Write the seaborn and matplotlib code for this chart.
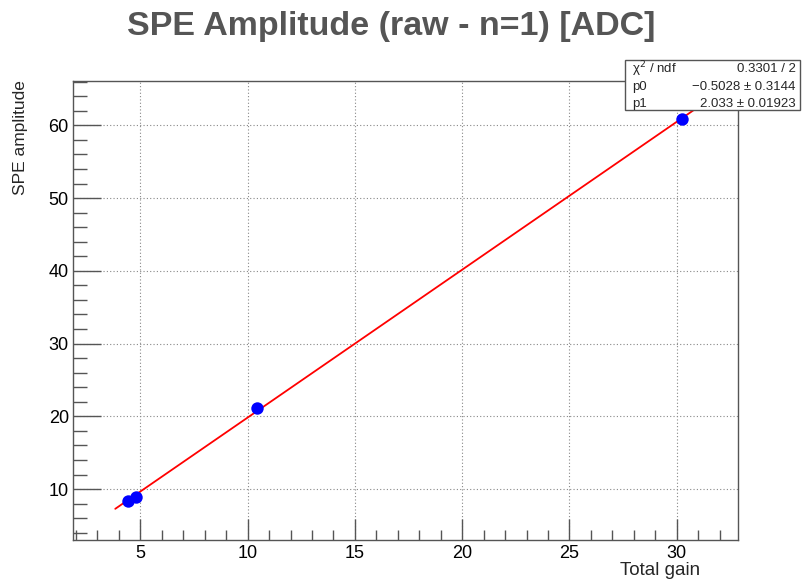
import numpy as np
import pandas as pd
import matplotlib
matplotlib.use("Agg")
import matplotlib.pyplot as plt
from matplotlib.ticker import MultipleLocator
from matplotlib.patches import Rectangle
import seaborn as sns

# ---- data ----
total_gain = [4.44, 4.81, 10.46, 30.23]
spe_amplitude = [8.4, 8.9, 21.2, 60.9]
fit_p0 = -0.5028
fit_p1 = 2.033
fit_x_range = [3.83, 31.8]
stats_names = ["χ$^2$ / ndf", "p0", "p1"]
stats_values = ["0.3301 / 2", "\u22120.5028 ± 0.3144", "2.033 ± 0.01923"]
x_ticks = [5, 10, 15, 20, 25, 30]
y_ticks = [10, 20, 30, 40, 50, 60]

sns.set_theme(style="white")
plt.rcParams['font.family'] = ['Liberation Sans', 'DejaVu Sans']

fig = plt.figure(figsize=(8.02, 5.82), dpi=100)
ax = fig.add_axes([0.091, 0.0722, 0.829, 0.788])

df = pd.DataFrame({"x": total_gain, "y": spe_amplitude})
fx = np.linspace(fit_x_range[0], fit_x_range[1], 50)
fdf = pd.DataFrame({"x": fx, "y": fit_p0 + fit_p1 * fx})

sns.lineplot(data=fdf, x="x", y="y", color="red", linewidth=1.3, ax=ax, zorder=3)
sns.scatterplot(data=df, x="x", y="y", color="#0000ff", s=80, edgecolor="#0000ff",
                linewidth=0, ax=ax, zorder=4)

ax.set_xlim(1.86, 32.85)
ax.set_ylim(3.0, 66.05)
ax.set_xticks(x_ticks)
ax.set_yticks(y_ticks)
ax.xaxis.set_minor_locator(MultipleLocator(1))
ax.yaxis.set_minor_locator(MultipleLocator(2))
ax.tick_params(axis="both", which="major", direction="in", length=15, width=1.0,
               color="#555555", labelsize=13, labelcolor="black", bottom=True, left=True,
               top=False, right=False)
ax.tick_params(axis="x", which="major", pad=3.5)
ax.tick_params(axis="y", which="major", pad=3)
ax.tick_params(axis="both", which="minor", direction="in", length=7, width=1.0,
               color="#555555", bottom=True, left=True, top=False, right=False)
ax.tick_params(axis="y", which="major", length=20)
ax.tick_params(axis="y", which="minor", length=10)
ax.grid(True, which="major", linestyle=(0, (1, 2)), color="#888888", linewidth=0.8)
for sp in ax.spines.values():
    sp.set_color("#555555")
    sp.set_linewidth(1.0)

ax.set_xlabel("")
ax.set_ylabel("")
fig.text(0.873, 0.005, "Total gain", ha="right", va="bottom", fontsize=13.5)
fig.text(0.016, 0.862, "SPE amplitude", ha="left", va="top", rotation=90, fontsize=12.5)
fig.text(0.4875, 0.955, "SPE Amplitude (raw - n=1) [ADC]", ha="center", va="center",
         fontsize=24.5, fontweight="bold", color="#555555")

# stats box
box = Rectangle((0.779, 0.811), 0.219, 0.086, transform=fig.transFigure,
                facecolor="white", edgecolor="#555555", linewidth=1.0, zorder=10)
fig.patches.append(box)
rows_y = [0.881, 0.851, 0.822]
for name, val, yy in zip(stats_names, stats_values, rows_y):
    fig.text(0.788, yy, name, ha="left", va="center", fontsize=9.5, zorder=11)
    fig.text(0.992, yy, val, ha="right", va="center", fontsize=9.5, zorder=11)

fig.savefig("out.png", dpi=100)
